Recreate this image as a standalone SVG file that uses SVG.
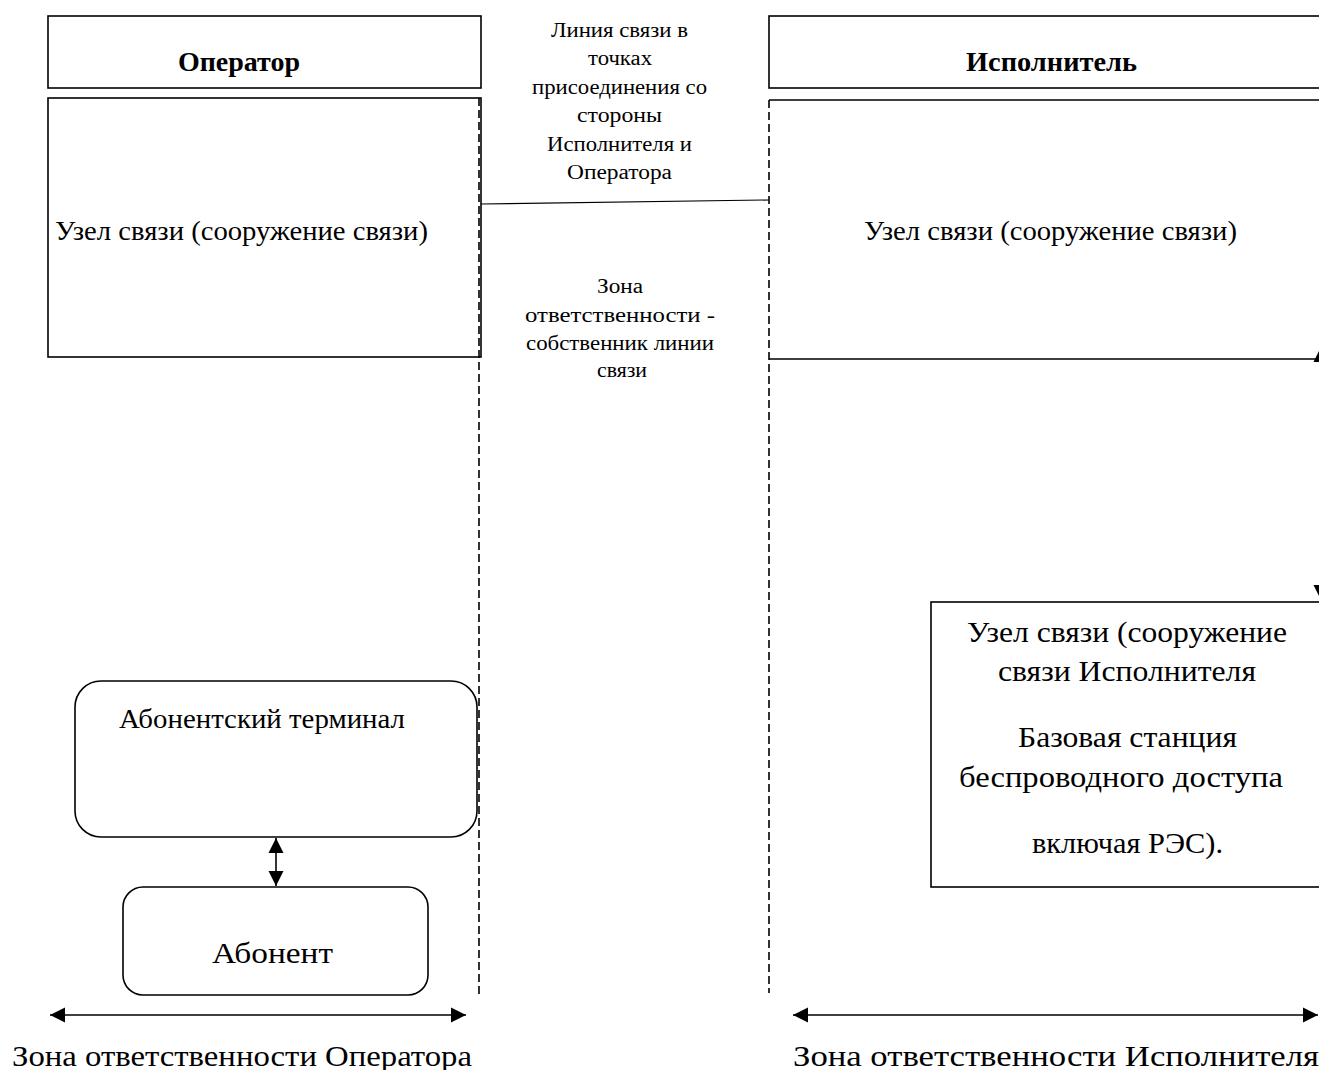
<svg xmlns="http://www.w3.org/2000/svg" width="1319" height="1070" viewBox="0 0 1319 1070">
<style>
  .box { fill: #fff; stroke: #000; stroke-width: 1.6; }
  .edge { fill: none; stroke: #000; stroke-width: 1.6; }
  .dash { fill: none; stroke: #000; stroke-width: 1.6; stroke-dasharray: 8 4; }
  .thin { fill: none; stroke: #000; stroke-width: 1.1; }
  text { font-family: "Liberation Serif", "DejaVu Serif", serif; fill: #000; }
  .hdr { font-size: 27px; font-weight: bold; }
  .lbl { font-size: 27px; }
  .sm { font-size: 20px; }
  .big { font-size: 29px; }
</style>
<defs>
  <marker id="ah" viewBox="0 0 10 10" refX="10" refY="5" markerWidth="9.5" markerHeight="9.5" markerUnits="strokeWidth" orient="auto-start-reverse">
    <path d="M0,0 L10,5 L0,10 Z" fill="#000"/>
  </marker>
</defs>

<g id="operator-header">
  <rect class="box" x="48" y="16" width="433" height="72"/>
  <text class="hdr" x="178" y="71" textLength="122" lengthAdjust="spacingAndGlyphs">Оператор</text>
</g>
<g id="operator-node">
  <rect class="box" x="48" y="98" width="433" height="259"/>
  <text class="lbl" x="55" y="240" textLength="373" lengthAdjust="spacingAndGlyphs">Узел связи (сооружение связи)</text>
</g>
<g id="executor-header">
  <rect class="box" x="769" y="16" width="600" height="72"/>
  <text class="hdr" x="966" y="71" textLength="171" lengthAdjust="spacingAndGlyphs">Исполнитель</text>
</g>
<g id="executor-node">
  <path class="edge" d="M769,100 H1340 M769,359 H1340"/>
  <text class="lbl" x="864" y="240" textLength="373" lengthAdjust="spacingAndGlyphs">Узел связи (сооружение связи)</text>
</g>
<g id="base-station">
  <rect class="box" x="931" y="602" width="420" height="285"/>
  <text class="big" x="967" y="642" textLength="320" lengthAdjust="spacingAndGlyphs">Узел связи (сооружение</text>
  <text class="big" x="998" y="681" textLength="258" lengthAdjust="spacingAndGlyphs">связи Исполнителя</text>
  <text class="big" x="1018" y="747" textLength="219" lengthAdjust="spacingAndGlyphs">Базовая станция</text>
  <text class="big" x="959" y="787" textLength="324" lengthAdjust="spacingAndGlyphs">беспроводного доступа</text>
  <text class="big" x="1032" y="853" textLength="191" lengthAdjust="spacingAndGlyphs">включая РЭС).</text>
</g>
<g id="terminal">
  <rect class="box" x="75" y="681" width="402" height="156" rx="26" ry="26"/>
  <text class="lbl" x="119" y="728" textLength="286" lengthAdjust="spacingAndGlyphs">Абонентский терминал</text>
</g>
<g id="subscriber">
  <rect class="box" x="123" y="887" width="305" height="108" rx="20" ry="20"/>
  <text class="big" x="212" y="963" font-size="32" textLength="121" lengthAdjust="spacingAndGlyphs">Абонент</text>
</g>
<g id="line-label">
  <text class="sm" x="551" y="37" textLength="137" lengthAdjust="spacingAndGlyphs">Линия связи в</text>
  <text class="sm" x="588" y="65" textLength="64" lengthAdjust="spacingAndGlyphs">точках</text>
  <text class="sm" x="532" y="94" textLength="175" lengthAdjust="spacingAndGlyphs">присоединения со</text>
  <text class="sm" x="577" y="122" textLength="85" lengthAdjust="spacingAndGlyphs">стороны</text>
  <text class="sm" x="547" y="151" textLength="145" lengthAdjust="spacingAndGlyphs">Исполнителя и</text>
  <text class="sm" x="567" y="179" textLength="105" lengthAdjust="spacingAndGlyphs">Оператора</text>
</g>
<g id="zone-label">
  <text class="sm" x="597" y="293" textLength="46" lengthAdjust="spacingAndGlyphs">Зона</text>
  <text class="sm" x="525" y="322" textLength="190" lengthAdjust="spacingAndGlyphs">ответственности -</text>
  <text class="sm" x="526" y="350" textLength="188" lengthAdjust="spacingAndGlyphs">собственник линии</text>
  <text class="sm" x="597" y="377" textLength="50" lengthAdjust="spacingAndGlyphs">связи</text>
</g>
<g id="zone-operator">
  <text class="big" x="12" y="1066" textLength="460" lengthAdjust="spacingAndGlyphs">Зона ответственности Оператора</text>
</g>
<g id="zone-executor">
  <text class="big" x="793" y="1066" textLength="526" lengthAdjust="spacingAndGlyphs">Зона ответственности Исполнителя</text>
</g>

<g id="connectors">
  <line class="dash" x1="479" y1="98" x2="479" y2="995"/>
  <line class="dash" x1="769" y1="100" x2="769" y2="993"/>
  <line class="thin" x1="481" y1="204" x2="769" y2="200"/>
  <line class="edge" x1="276" y1="838" x2="276" y2="886" marker-start="url(#ah)" marker-end="url(#ah)"/>
  <line class="edge" x1="50" y1="1015" x2="466" y2="1015" marker-start="url(#ah)" marker-end="url(#ah)"/>
  <line class="edge" x1="793" y1="1015" x2="1318" y2="1015" marker-start="url(#ah)" marker-end="url(#ah)"/>
  <line class="edge" x1="1321" y1="347" x2="1321" y2="600" marker-start="url(#ah)" marker-end="url(#ah)"/>
</g>
</svg>
